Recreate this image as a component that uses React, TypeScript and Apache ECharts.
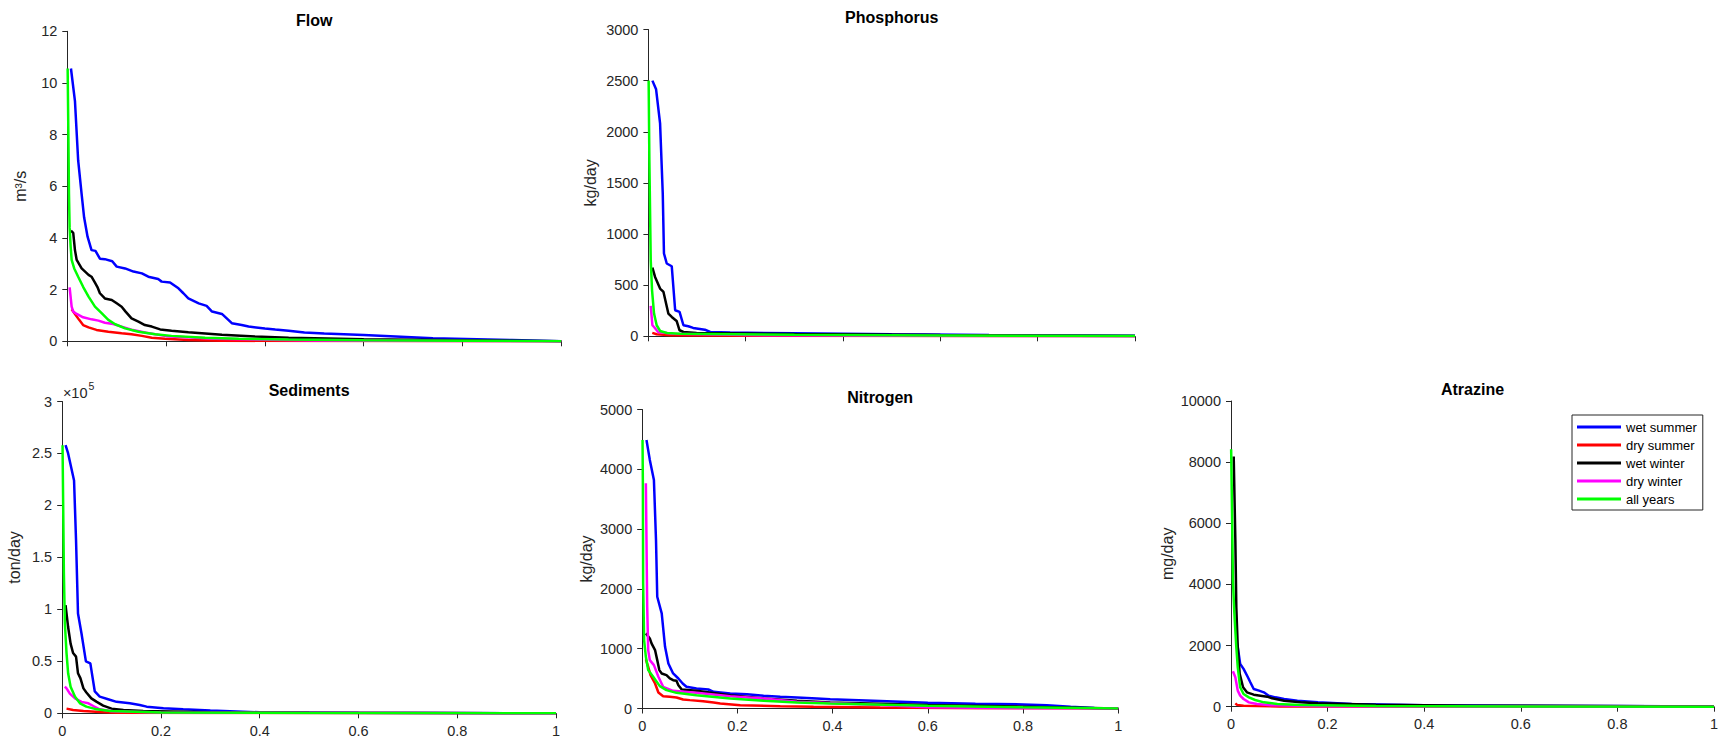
import React, { useEffect, useRef } from "react";
import * as echarts from "echarts";

// ---------- series metadata ----------
const seriesNames = ["wet summer", "dry summer", "wet winter", "dry winter", "all years"];
const seriesColors = ["#0000ff", "#ff0000", "#000000", "#ff00ff", "#00ff00"];

// ---------- x axis ticks (fraction of time exceeded) ----------
const xTicks = [0, 0.2, 0.4, 0.6, 0.8, 1];

// ---------- Flow (m3/s) ----------
const flowWetSummer = [[0.0074,10.56],[0.0155,9.3],[0.022,7.0],[0.029,5.7],[0.034,4.8],[0.041,4.05],[0.049,3.53],[0.057,3.5],[0.066,3.2],[0.076,3.18],[0.091,3.1],[0.1,2.89],[0.117,2.82],[0.134,2.7],[0.151,2.63],[0.164,2.5],[0.184,2.41],[0.191,2.31],[0.208,2.28],[0.225,2.05],[0.235,1.86],[0.245,1.66],[0.266,1.47],[0.282,1.37],[0.293,1.15],[0.313,1.06],[0.326,0.83],[0.333,0.7],[0.353,0.63],[0.367,0.57],[0.4,0.5],[0.421,0.46],[0.448,0.41],[0.48,0.34],[0.52,0.3],[0.6,0.24],[0.74,0.12],[0.9,0.05],[1,0]];
const flowDrySummer = [[0.0088,1.24],[0.0155,1.06],[0.024,0.83],[0.032,0.63],[0.043,0.54],[0.059,0.44],[0.083,0.37],[0.11,0.31],[0.13,0.27],[0.151,0.21],[0.171,0.14],[0.198,0.1],[0.245,0.05],[0.313,0.02],[0.5,0.01],[1,0]];
const flowWetWinter = [[0.0074,4.28],[0.012,4.2],[0.0155,3.53],[0.019,3.15],[0.029,2.82],[0.043,2.57],[0.049,2.5],[0.056,2.27],[0.061,2.1],[0.066,1.86],[0.076,1.66],[0.09,1.6],[0.1,1.47],[0.11,1.34],[0.118,1.15],[0.13,0.89],[0.144,0.76],[0.157,0.63],[0.171,0.57],[0.188,0.46],[0.211,0.41],[0.245,0.35],[0.279,0.3],[0.313,0.25],[0.38,0.19],[0.448,0.14],[0.5,0.12],[0.6,0.08],[0.8,0.04],[1,0]];
const flowDryWinter = [[0.0047,2.09],[0.0088,1.34],[0.012,1.15],[0.019,1.06],[0.032,0.93],[0.049,0.85],[0.063,0.8],[0.076,0.72],[0.093,0.67],[0.11,0.57],[0.13,0.45],[0.16,0.33],[0.2,0.2],[0.3,0.1],[0.5,0.03],[1,0]];
const flowAllYears = [[0.0007,10.56],[0.002,8.3],[0.0034,5.7],[0.0047,4.4],[0.0068,3.66],[0.0088,3.15],[0.014,2.82],[0.022,2.5],[0.032,2.11],[0.043,1.73],[0.056,1.34],[0.07,1.08],[0.083,0.83],[0.097,0.66],[0.117,0.5],[0.144,0.37],[0.178,0.27],[0.211,0.21],[0.279,0.14],[0.347,0.1],[0.448,0.065],[0.6,0.04],[0.8,0.02],[1,0]];

// ---------- Phosphorus (kg/day) ----------
const phosWetSummer = [[0.0082,2500],[0.0158,2415],[0.024,2082],[0.0295,1397],[0.032,810],[0.0377,712],[0.048,685],[0.055,255],[0.064,238],[0.072,108],[0.082,98],[0.092,82],[0.116,65],[0.127,42],[0.168,36],[0.3,30],[0.5,20],[0.7,12],[0.9,8],[1,5]];
const phosDrySummer = [[0.008,33],[0.017,20],[0.045,10],[0.2,5],[1,0]];
const phosWetWinter = [[0.0082,672],[0.0137,581],[0.024,467],[0.031,434],[0.041,222],[0.048,189],[0.058,150],[0.064,59],[0.072,42],[0.099,33],[0.3,22],[0.6,12],[1,3]];
const phosDryWinter = [[0.0048,297],[0.0082,108],[0.0116,91],[0.02,42],[0.05,25],[0.2,12],[0.5,6],[1,1]];
const phosAllYears = [[0.0005,2500],[0.002,1723],[0.0048,744],[0.0075,450],[0.0116,222],[0.017,108],[0.024,52],[0.038,33],[0.065,26],[0.3,14],[0.6,8],[1,2]];

// ---------- Sediments (ton/day) ----------
const sedWetSummer = [[0.0068,258000],[0.012,250000],[0.024,224000],[0.028,167000],[0.032,96000],[0.039,77000],[0.048,50000],[0.057,48000],[0.066,21000],[0.076,16000],[0.093,13500],[0.11,11000],[0.137,9600],[0.157,8000],[0.171,6400],[0.205,4800],[0.245,3800],[0.3,2600],[0.4,1000],[0.6,500],[1,0]];
const sedDrySummer = [[0.0088,4500],[0.022,3200],[0.043,2200],[0.076,1300],[0.11,600],[0.3,200],[1,0]];
const sedWetWinter = [[0.0068,104000],[0.012,83000],[0.017,67000],[0.022,58000],[0.028,54500],[0.032,38500],[0.037,33600],[0.043,24000],[0.049,20000],[0.059,14400],[0.07,11000],[0.083,7400],[0.1,4500],[0.124,3200],[0.164,2200],[0.3,1000],[0.5,500],[1,0]];
const sedDryWinter = [[0.0054,25600],[0.0088,24000],[0.0155,19000],[0.026,14400],[0.039,11000],[0.053,9600],[0.063,7000],[0.076,3800],[0.1,2000],[0.2,800],[1,0]];
const sedAllYears = [[0.0007,258000],[0.002,199000],[0.0034,135000],[0.0054,86500],[0.0088,57700],[0.012,38500],[0.017,25600],[0.026,16000],[0.036,9600],[0.049,6400],[0.07,3800],[0.097,2200],[0.2,800],[0.5,300],[1,0]];

// ---------- Nitrogen (kg/day) ----------
const nitWetSummer = [[0.009,4490],[0.016,4157],[0.0246,3822],[0.029,2818],[0.0316,1869],[0.041,1590],[0.048,1032],[0.055,753],[0.065,586],[0.076,502],[0.085,418],[0.093,363],[0.114,335],[0.139,318],[0.15,279],[0.185,251],[0.22,240],[0.255,212],[0.29,195],[0.325,184],[0.367,167],[0.395,156],[0.5,125],[0.6,95],[0.7,80],[0.8,68],[0.85,55],[0.9,30],[0.95,10],[1,0]];
const nitDrySummer = [[0.0077,820],[0.0126,698],[0.0175,558],[0.027,418],[0.034,268],[0.044,206],[0.058,195],[0.072,184],[0.086,150],[0.1,140],[0.128,123],[0.15,100],[0.164,84],[0.206,56],[0.29,39],[0.36,28],[0.5,15],[0.7,5],[1,0]];
const nitWetWinter = [[0.0077,1256],[0.016,1172],[0.0196,1088],[0.027,977],[0.0316,809],[0.036,642],[0.041,586],[0.051,558],[0.058,502],[0.065,474],[0.072,463],[0.076,390],[0.083,318],[0.114,296],[0.185,223],[0.255,167],[0.325,128],[0.395,100],[0.6,60],[0.8,30],[1,0]];
const nitDryWinter = [[0.0077,3767],[0.009,2818],[0.0105,1702],[0.0126,977],[0.016,809],[0.0246,725],[0.034,530],[0.044,363],[0.065,296],[0.114,262],[0.185,206],[0.255,167],[0.325,112],[0.5,60],[0.6,20],[0.8,5],[1,0]];
const nitAllYears = [[0.0007,4490],[0.0014,3767],[0.002,2093],[0.004,1144],[0.0077,865],[0.0126,642],[0.023,530],[0.037,374],[0.051,307],[0.072,262],[0.114,223],[0.185,167],[0.255,128],[0.325,100],[0.395,84],[0.6,45],[0.8,20],[1,0]];

// ---------- Atrazine (mg/day) ----------
const atrWetSummer = [[0.012,2100],[0.014,1947],[0.019,1400],[0.026,1236],[0.035,963],[0.04,799],[0.047,580],[0.058,525],[0.068,470],[0.078,361],[0.092,306],[0.11,252],[0.1375,197],[0.18,142],[0.25,88],[0.4,50],[0.6,30],[0.8,20],[1,10]];
const atrDrySummer = [[0.009,110],[0.0125,60],[0.026,30],[0.1,10],[1,0]];
const atrWetWinter = [[0.0056,8183],[0.009,5448],[0.011,3260],[0.014,1947],[0.018,1072],[0.025,635],[0.033,470],[0.047,394],[0.061,361],[0.075,328],[0.085,274],[0.11,197],[0.144,142],[0.18,109],[0.3,60],[0.5,35],[1,5]];
const atrDryWinter = [[0.004,1160],[0.009,963],[0.014,525],[0.019,361],[0.026,252],[0.037,142],[0.054,88],[0.082,44],[0.2,15],[1,0]];
const atrAllYears = [[0.0003,8424],[0.002,6542],[0.004,4135],[0.007,3041],[0.011,1947],[0.014,1290],[0.019,635],[0.026,416],[0.037,306],[0.05,219],[0.068,142],[0.096,88],[0.144,55],[0.3,25],[0.6,10],[1,0]];

// ---------- panel definitions ----------
const panelTitles = ["Flow", "Phosphorus", "Sediments", "Nitrogen", "Atrazine"];
const panelUnits = ["m\u00b3/s", "kg/day", "ton/day", "kg/day", "mg/day"];
const panelMax = [12, 3000, 300000, 5000, 10000];
const panelInterval = [2, 500, 50000, 1000, 2000];
const panelSeries = [
  [flowWetSummer, flowDrySummer, flowWetWinter, flowDryWinter, flowAllYears],
  [phosWetSummer, phosDrySummer, phosWetWinter, phosDryWinter, phosAllYears],
  [sedWetSummer, sedDrySummer, sedWetWinter, sedDryWinter, sedAllYears],
  [nitWetSummer, nitDrySummer, nitWetWinter, nitDryWinter, nitAllYears],
  [atrWetSummer, atrDrySummer, atrWetWinter, atrDryWinter, atrAllYears],
];

// layout (pixels)
const layout = [
  { left: 67.3, top: 31.3, width: 494, height: 310, nameGap: 39, showX: false },
  { left: 648.4, top: 29.5, width: 486.6, height: 306.8, nameGap: 50, showX: false },
  { left: 62.2, top: 401.5, width: 493.8, height: 311.8, nameGap: 40, showX: true },
  { left: 642.2, top: 409.5, width: 476, height: 299, nameGap: 48, showX: true },
  { left: 1231, top: 401, width: 483, height: 305.7, nameGap: 56, showX: true },
];
const titleY = [20, 17, 390, 397.7, 389];

const FONT = "'Liberation Sans', Arial, Helvetica, sans-serif";
const AX = "#262626";

function buildOption() {
  const grid: any[] = [];
  const xAxis: any[] = [];
  const yAxis: any[] = [];
  const series: any[] = [];
  const graphic: any[] = [];

  panelTitles.forEach((title, i) => {
    const L = layout[i];
    grid.push({ left: L.left, top: L.top, width: L.width, height: L.height, containLabel: false });
    xAxis.push({
      type: "value",
      gridIndex: i,
      min: xTicks[0],
      max: xTicks[xTicks.length - 1],
      interval: xTicks[1] - xTicks[0],
      axisLine: { show: true, lineStyle: { color: AX, width: 1 } },
      axisTick: { show: true, inside: false, length: 5, lineStyle: { color: AX } },
      axisLabel: {
        show: L.showX,
        color: AX,
        fontSize: 14.5,
        fontFamily: FONT,
        margin: 10,
        formatter: (v: number) => String(+v.toFixed(2)),
      },
      splitLine: { show: false },
    });
    const isSed = i === 2;
    yAxis.push({
      type: "value",
      gridIndex: i,
      min: 0,
      max: panelMax[i],
      interval: panelInterval[i],
      name: panelUnits[i],
      nameLocation: "middle",
      nameRotate: 90,
      nameGap: L.nameGap,
      nameTextStyle: { color: AX, fontSize: 16, fontFamily: FONT },
      axisLine: { show: true, lineStyle: { color: AX, width: 1 } },
      axisTick: { show: true, inside: false, length: 5, lineStyle: { color: AX } },
      axisLabel: {
        color: AX,
        fontSize: 14.5,
        fontFamily: FONT,
        margin: 10,
        formatter: (v: number) => (isSed ? String(+(v / 1e5).toFixed(2)) : String(v)),
      },
      splitLine: { show: false },
    });
    panelSeries[i].forEach((data, k) => {
      series.push({
        type: "line",
        name: seriesNames[k],
        xAxisIndex: i,
        yAxisIndex: i,
        data,
        symbol: "none",
        showSymbol: false,
        lineStyle: { color: seriesColors[k], width: 2.5 },
        itemStyle: { color: seriesColors[k] },
        z: 2 + k,
      });
    });
    graphic.push({
      type: "text",
      x: L.left + L.width / 2,
      y: titleY[i],
      style: {
        text: title,
        fill: "#000",
        fontSize: 16,
        fontWeight: "bold",
        fontFamily: FONT,
        align: "center",
        verticalAlign: "middle",
      },
    });
  });

  // x10^5 exponent label for sediments
  graphic.push({
    type: "text",
    x: 62.9,
    y: 393.3,
    style: { text: "\u00d710", fill: AX, fontSize: 14.5, fontFamily: FONT, align: "left", verticalAlign: "middle" },
  });
  graphic.push({
    type: "text",
    x: 88.5,
    y: 386,
    style: { text: "5", fill: AX, fontSize: 10.5, fontFamily: FONT, align: "left", verticalAlign: "middle" },
  });

  return {
    animation: false,
    backgroundColor: "#ffffff",
    grid,
    xAxis,
    yAxis,
    series,
    graphic,
    legend: {
      data: seriesNames,
      orient: "vertical",
      left: 1572,
      top: 415,
      padding: [5, 6, 4, 5],
      icon: "rect",
      itemWidth: 44,
      itemHeight: 3,
      itemGap: 4,
      borderColor: AX,
      borderWidth: 1,
      backgroundColor: "#ffffff",
      textStyle: { color: "#000", fontSize: 13, lineHeight: 14, fontFamily: FONT },
    },
  };
}

export default function App() {
  const ref = useRef<HTMLDivElement>(null);
  useEffect(() => {
    if (!ref.current) return;
    const chart = echarts.init(ref.current, null, { renderer: "svg" });
    chart.setOption(buildOption());
    return () => chart.dispose();
  }, []);
  return (
    <div
      ref={ref}
      style={{ position: "absolute", left: 0, top: 0, width: 1721, height: 745, background: "#fff" }}
    />
  );
}
